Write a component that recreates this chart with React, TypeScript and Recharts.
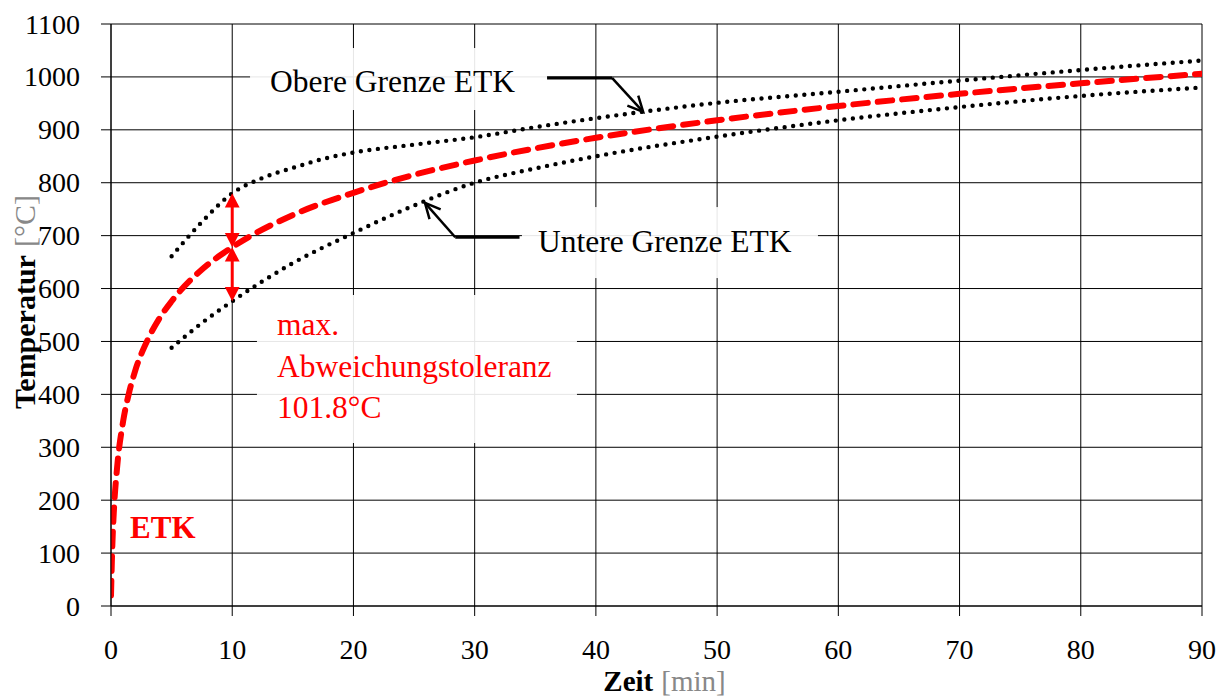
import React from 'react';
import { LineChart, Line, XAxis, YAxis, CartesianGrid, ReferenceLine, ReferenceDot } from 'recharts';

const FONT = 'Liberation Serif, Times New Roman, serif';

// ETK curve, values
const etkTime = [0, 0.1, 0.25, 0.5, 1, 1.5, 2, 3, 4, 5, 7.5, 10, 15, 20, 25, 30, 35, 40, 50, 60, 70, 80, 90];
const etkTemp = [20, 108, 185, 261, 349, 404, 445, 502, 544, 576, 636, 678, 739, 781, 815, 842, 865, 885, 918, 945, 968, 988, 1006];

// upper / lower tolerance limits
const upperTime = [5, 7.5, 10, 12.5, 15, 17.5, 20, 25, 30, 35, 40, 50, 60, 70, 80, 90];
const upperTemp = [661, 726, 780, 809, 828, 845, 857, 872, 886, 905, 922, 951, 972, 993, 1013, 1031];
const lowerTime = [5, 7.5, 10, 15, 20, 25, 30, 35, 40, 50, 60, 70, 80, 90];
const lowerTemp = [488, 535, 576, 648, 705, 757, 800, 827, 850, 887, 918, 943, 964, 980];

const xTicks = [0, 10, 20, 30, 40, 50, 60, 70, 80, 90];
const yTicks = [0, 100, 200, 300, 400, 500, 600, 700, 800, 900, 1000, 1100];

const etkData = etkTime.map((t, i) => ({ t, v: etkTemp[i] }));
const upperData = upperTime.map((t, i) => ({ t, v: upperTemp[i] }));
const lowerData = lowerTime.map((t, i) => ({ t, v: lowerTemp[i] }));

const arrowHead = (x1: number, y1: number, x2: number, y2: number, len: number, spread: number) => {
  const a = Math.atan2(y2 - y1, x2 - x1);
  return [
    [x2 - len * Math.cos(a - spread), y2 - len * Math.sin(a - spread)],
    [x2, y2],
    [x2 - len * Math.cos(a + spread), y2 - len * Math.sin(a + spread)],
  ];
};

const OpenArrow = (props: any) => {
  const { x1, y1, x2, y2 } = props;
  const pts = arrowHead(x1, y1, x2, y2, 17, 0.45);
  return (
    <g>
      <line x1={x1} y1={y1} x2={x2} y2={y2} stroke="#000" strokeWidth={2.5} />
      <polyline points={pts.map((p) => p.join(',')).join(' ')} fill="none" stroke="#000" strokeWidth={2.5} />
    </g>
  );
};

const DoubleArrow = (props: any) => {
  const { x1, y1, x2, y2 } = props;
  const a = arrowHead(x1, y1, x2, y2, 16, 0.48);
  const b = arrowHead(x2, y2, x1, y1, 16, 0.48);
  const dir = Math.sign(y2 - y1);
  return (
    <g>
      <line x1={x1} y1={y1 + dir * 12} x2={x2} y2={y2 - dir * 12} stroke="#ff0000" strokeWidth={3} />
      <polygon points={a.map((p) => p.join(',')).join(' ')} fill="#ff0000" />
      <polygon points={b.map((p) => p.join(',')).join(' ')} fill="#ff0000" />
    </g>
  );
};

const TextBox = (w: number, h: number, lines: string[], color: string, dx: number, dy: number, gap: number) =>
  (props: any) => {
    const { cx, cy } = props;
    return (
      <g>
        <rect x={cx} y={cy} width={w} height={h} fill="#fff" fillOpacity={0.9} />
        {lines.map((s, i) => (
          <text key={i} x={cx + dx} y={cy + dy + i * gap} fill={color} fontFamily={FONT} fontSize={31.5}>
            {s}
          </text>
        ))}
      </g>
    );
  };

const EtkLabel = (props: any) => (
  <text x={props.cx} y={props.cy} fill="#ff0000" fontFamily={FONT} fontSize={31} fontWeight="bold">
    ETK
  </text>
);

const XTick = (props: any) => {
  const { x, y, payload } = props;
  return (
    <text x={x} y={y + 20} textAnchor="middle" fill="#000" fontFamily={FONT} fontSize={28}>
      {payload.value}
    </text>
  );
};

const YTick = (props: any) => {
  const { x, y, payload } = props;
  return (
    <text x={x} y={y + 9.5} textAnchor="end" fill="#000" fontFamily={FONT} fontSize={28}>
      {payload.value}
    </text>
  );
};

const XTitle = (props: any) => {
  const { x, y, width } = props.viewBox;
  return (
    <text x={x + width / 2 + 8} y={y + 85} textAnchor="middle" fontFamily={FONT} fontSize={29}>
      <tspan fontWeight="bold" fill="#000">Zeit</tspan>
      <tspan fill="#888" dx={8}>[min]</tspan>
    </text>
  );
};

const YTitle = (props: any) => {
  const { y, height } = props.viewBox;
  const cx = 35;
  const cy = y + height / 2 - 13;
  return (
    <text x={cx} y={cy} transform={`rotate(-90 ${cx} ${cy})`} textAnchor="middle" fontFamily={FONT} fontSize={30}>
      <tspan fontWeight="bold" fill="#000">Temperatur</tspan>
      <tspan fill="#888" dx={8}>[°C]</tspan>
    </text>
  );
};

export default function App() {
  return (
    <div style={{ position: 'absolute', left: 0, top: 0, width: 1220, height: 696, background: '#fff' }}>
      <LineChart width={1220} height={696} margin={{ top: 24, right: 18, bottom: 0, left: 0 }}>
        <CartesianGrid stroke="#000" strokeWidth={1} />
        <XAxis
          type="number"
          dataKey="t"
          domain={[0, 90]}
          ticks={xTicks}
          allowDataOverflow
          height={90}
          tickSize={10}
          tickMargin={23}
          tick={XTick}
          axisLine={{ stroke: '#000' }}
          tickLine={{ stroke: '#000' }}
          label={{ content: XTitle }}
        />
        <YAxis
          type="number"
          dataKey="v"
          domain={[0, 1100]}
          ticks={yTicks}
          allowDataOverflow
          width={111}
          tickSize={10}
          tickMargin={21}
          tick={YTick}
          axisLine={{ stroke: '#000' }}
          tickLine={{ stroke: '#000' }}
          label={{ content: YTitle }}
        />
        <ReferenceDot x={11.47} y={1054.6} r={0} shape={TextBox(297, 62, ['Obere Grenze ETK'], '#000', 20, 44, 0)} />
        <ReferenceDot x={33.9} y={754} r={0} shape={TextBox(296, 71, ['Untere Grenze ETK'], '#000', 16, 45, 0)} />
        <ReferenceDot
          x={12.04}
          y={587.8}
          r={0}
          shape={TextBox(320, 148, ['max.', 'Abweichungstoleranz', '101.8°C'], '#ff0000', 20, 40, 41.5)}
        />
        <Line
          data={upperData}
          dataKey="v"
          type="monotone"
          stroke="#000"
          strokeWidth={4.4}
          strokeDasharray="0 8.6"
          strokeLinecap="round"
          dot={false}
          isAnimationActive={false}
        />
        <Line
          data={lowerData}
          dataKey="v"
          type="monotone"
          stroke="#000"
          strokeWidth={4.4}
          strokeDasharray="0 8.6"
          strokeLinecap="round"
          dot={false}
          isAnimationActive={false}
        />
        <Line
          data={etkData}
          dataKey="v"
          type="monotone"
          stroke="#ff0000"
          strokeWidth={6}
          strokeDasharray="14.5 10"
          strokeLinecap="round"
          dot={false}
          isAnimationActive={false}
        />
        <ReferenceLine segment={[{ x: 35.97, y: 998 }, { x: 41.33, y: 998 }]} stroke="#000" strokeWidth={3} />
        <ReferenceLine segment={[{ x: 41.33, y: 998 }, { x: 43.9, y: 934 }]} shape={OpenArrow} />
        <ReferenceLine segment={[{ x: 33.7, y: 697 }, { x: 28.4, y: 697 }]} stroke="#000" strokeWidth={3} />
        <ReferenceLine segment={[{ x: 28.4, y: 697 }, { x: 25.9, y: 762 }]} shape={OpenArrow} />
        <ReferenceLine segment={[{ x: 10, y: 678 }, { x: 10, y: 780 }]} shape={DoubleArrow} />
        <ReferenceLine segment={[{ x: 10, y: 576 }, { x: 10, y: 678 }]} shape={DoubleArrow} />
        <ReferenceDot x={1.57} y={128.5} r={0} shape={EtkLabel} />
      </LineChart>
    </div>
  );
}
